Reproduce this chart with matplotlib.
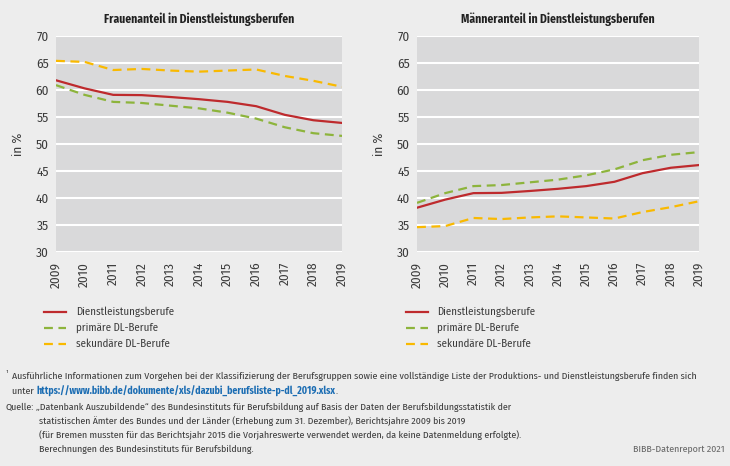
import matplotlib
matplotlib.use("Agg")
import matplotlib.pyplot as plt
from matplotlib.lines import Line2D
from matplotlib import font_manager

years = [2009, 2010, 2011, 2012, 2013, 2014, 2015, 2016, 2017, 2018, 2019]

# Frauenanteil (in %)
frauen_dl = [61.8, 60.3, 59.1, 59.05, 58.7, 58.3, 57.8, 57.0, 55.4, 54.4, 53.9]
frauen_prim = [60.9, 59.1, 57.8, 57.6, 57.1, 56.6, 55.8, 54.7, 53.1, 52.0, 51.5]
frauen_sek = [65.4, 65.2, 63.7, 63.9, 63.6, 63.4, 63.6, 63.8, 62.6, 61.7, 60.6]

# Männeranteil (in %)
maenner_dl = [38.2, 39.7, 40.9, 40.95, 41.3, 41.7, 42.2, 43.0, 44.6, 45.6, 46.1]
maenner_prim = [39.1, 40.9, 42.2, 42.4, 42.9, 43.4, 44.2, 45.3, 47.0, 48.0, 48.5]
maenner_sek = [34.6, 34.8, 36.3, 36.1, 36.4, 36.6, 36.4, 36.2, 37.4, 38.3, 39.4]

series_names = ["Dienstleistungsberufe", "primäre DL-Berufe", "sekundäre DL-Berufe"]
titles = ["Frauenanteil in Dienstleistungsberufen", "Männeranteil in Dienstleistungsberufen"]
yticks = [30, 35, 40, 45, 50, 55, 60, 65, 70]

RED = "#be2a2d"
GREEN = "#8db43c"
YELLOW = "#f9b900"
BG = "#ededed"
PLOT_BG = "#d9d9da"
TXT = "#3c3c3c"

# condensed font like the original, fall back if not there
installed = {f.name for f in font_manager.fontManager.ttflist}
fam = "Liberation Sans"
for cand in ["Fira Sans Condensed", "Roboto Condensed", "PT Sans Narrow", "Asap Condensed"]:
    if cand in installed:
        fam = cand
        break
plt.rcParams["font.family"] = [fam, "DejaVu Sans"]

fig = plt.figure(figsize=(7.30, 4.66), dpi=100, facecolor=BG)
W, H = 730.0, 466.0


def make_axes(x0, x1, y_top, y_bot):
    return fig.add_axes([x0 / W, 1 - y_bot / H, (x1 - x0) / W, (y_bot - y_top) / H])


ax_l = make_axes(56, 342, 36, 252)
ax_r = make_axes(417, 699, 36, 252)

styles = [dict(color=RED, lw=1.6, ls="-"),
          dict(color=GREEN, lw=1.6, ls=(0, (4, 2.5))),
          dict(color=YELLOW, lw=1.6, ls=(0, (4, 2.5)))]

for ax, data, title in [(ax_l, [frauen_dl, frauen_prim, frauen_sek], titles[0]),
                        (ax_r, [maenner_dl, maenner_prim, maenner_sek], titles[1])]:
    ax.set_facecolor(PLOT_BG)
    for vals, st in zip(data, styles):
        ax.plot(years, vals, zorder=3, **st)
    ax.set_xlim(2009, 2019)
    ax.set_ylim(30, 70)
    ax.set_yticks(yticks)
    ax.set_xticks(years)
    ax.set_xticklabels([str(y) for y in years], rotation=90)
    ax.grid(axis="y", color="white", lw=1.5, zorder=1)
    ax.set_axisbelow(True)
    for s in ax.spines.values():
        s.set_visible(False)
    ax.tick_params(length=0, labelsize=9.5, colors=TXT)
    ax.tick_params(axis="x", pad=7)
    ax.tick_params(axis="y", pad=5)
    ax.set_ylabel("in %", fontsize=9.5, color=TXT, labelpad=8)
    ax.set_title(title, fontsize=8.4, fontweight="bold", color="#222222", pad=9)

# legends below each chart
for x_line, x_txt in [(44, 76), (406, 437)]:
    for i, (name, st) in enumerate(zip(series_names, styles)):
        y = 312 + i * 16
        fig.add_artist(Line2D([x_line / W, (x_line + 22) / W], [1 - y / H, 1 - y / H], **st))
        fig.text(x_txt / W, 1 - y / H, name, fontsize=7.8, color=TXT, va="center")

fs = 7.1
renderer = fig.canvas.get_renderer()
fig.text(6 / W, 1 - 373 / H, "¹", fontsize=5.5, color=TXT, va="center")
fig.text(12 / W, 1 - 376 / H,
         "Ausführliche Informationen zum Vorgehen bei der Klassifizierung der Berufsgruppen sowie eine "
         "vollständige Liste der Produktions- und Dienstleistungsberufe finden sich",
         fontsize=fs, color=TXT, va="center")
unter = fig.text(12 / W, 1 - 391 / H, "unter ", fontsize=fs, color=TXT, va="center")
link = fig.text(unter.get_window_extent(renderer).x1 / W, 1 - 391 / H,
                "https://www.bibb.de/dokumente/xls/dazubi_berufsliste-p-dl_2019.xlsx",
                fontsize=fs, color="#1b6db3", fontweight="bold", va="center")
fig.text(link.get_window_extent(renderer).x1 / W, 1 - 391 / H, ".", fontsize=fs, color=TXT, va="center")
fig.text(5 / W, 1 - 407 / H, "Quelle:", fontsize=fs, color=TXT, va="center")
quelle = ["„Datenbank Auszubildende“ des Bundesinstituts für Berufsbildung auf Basis der Daten der "
          "Berufsbildungsstatistik der",
          "statistischen Ämter des Bundes und der Länder (Erhebung zum 31. Dezember), Berichtsjahre 2009 bis 2019",
          "(für Bremen mussten für das Berichtsjahr 2015 die Vorjahreswerte verwendet werden, da keine "
          "Datenmeldung erfolgte).",
          "Berechnungen des Bundesinstituts für Berufsbildung."]
for i, line in enumerate(quelle):
    x = 39 if i > 0 else 36
    fig.text(x / W, 1 - (407 + i * 14) / H, line, fontsize=fs, color=TXT, va="center")
fig.text(725 / W, 1 - 450 / H, "BIBB-Datenreport 2021", fontsize=fs, color="#666666",
         ha="right", va="center")

fig.savefig("out.png", dpi=100, facecolor=BG)
